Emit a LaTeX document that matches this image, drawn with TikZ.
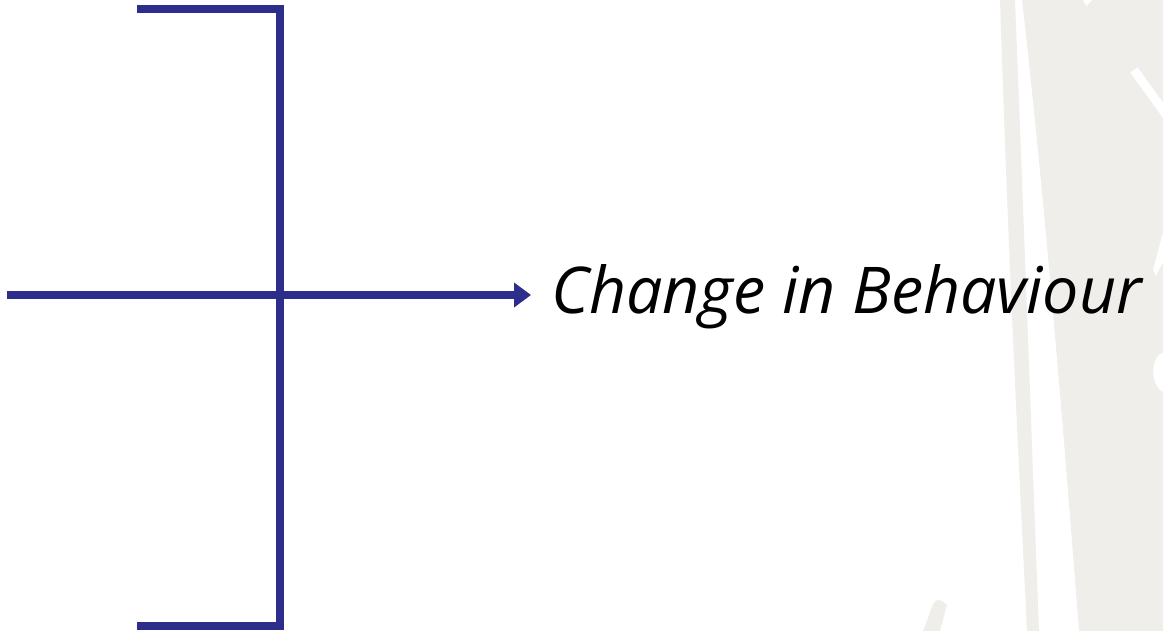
\documentclass[tikz,border=0pt]{standalone}
\usepackage{fontspec}
\setmainfont{Open Sans}
\usepackage{tikz}
\usetikzlibrary{positioning, arrows.meta, calc}
\definecolor{indigo}{HTML}{2D2D8C}
\definecolor{paper}{HTML}{EFEEEA}
\definecolor{shadowgray}{HTML}{9A9A9A}
\tikzset{
  bar/.style={line width=8pt, draw=indigo, line join=miter},
  barshade/.style={line width=8pt, draw=shadowgray, opacity=0.35,
                   line join=miter, shift={(1.5,3)}},
  flow/.style={bar, -{Triangle[length=17pt, width=24pt]}},
  label/.style={font=\fontsize{64.5}{72}\selectfont\itshape, inner sep=0pt,
                anchor=base west},
  deco/.style={fill=paper, draw=none},
}

\begin{document}
\begin{tikzpicture}[x=1pt, y=-1pt]
  \useasboundingbox (0,0) rectangle (1163,631);
  % background decoration on the right
  \fill[deco] (1022,0) .. controls (1045,200) and (1065,450) .. (1079,631)
    -- (1163,631) -- (1163,0) -- cycle;
  \fill[deco] (1000,0) -- (1015,0) .. controls (1025,250) and (1032,450) ..
    (1039,631) -- (1027,631) .. controls (1018,450) and (1008,250) .. (1000,0)
    -- cycle;
  \draw[white, line width=9pt] (1134,70) -- (1170,120);
  \fill[white] (1083,0) -- (1092,0) -- (1086,6) -- cycle;
  \fill[white] (1163,232) -- (1163,262) -- (1156,276) -- (1153,270) -- cycle;
  \fill[white] (1163,352) .. controls (1150,358) and (1150,385) .. (1163,392)
    -- cycle;
  \fill[deco] (923,631) -- (932,607) .. controls (935,598) and (940,598) ..
    (947,605) -- (940,631) -- cycle;

  % bracket and arrow
  \coordinate (top) at (137,9);
  \coordinate (topc) at (280,9);
  \coordinate (botc) at (280,626);
  \coordinate (bot) at (137,626);
  \coordinate (in) at (7,295);
  \node[label] (change) at (551,314) {Change in Behaviour};

  \draw[barshade] (top) -- (topc) -- (botc) -- (bot);
  \draw[barshade] (in) -- ($(in -| change.west)+(-24,0)$);
  \draw[bar] (top) -- (topc) -- (botc) -- (bot);
  \draw[flow] (in) -- ($(in -| change.west)+(-20,0)$);
\end{tikzpicture}
\end{document}
